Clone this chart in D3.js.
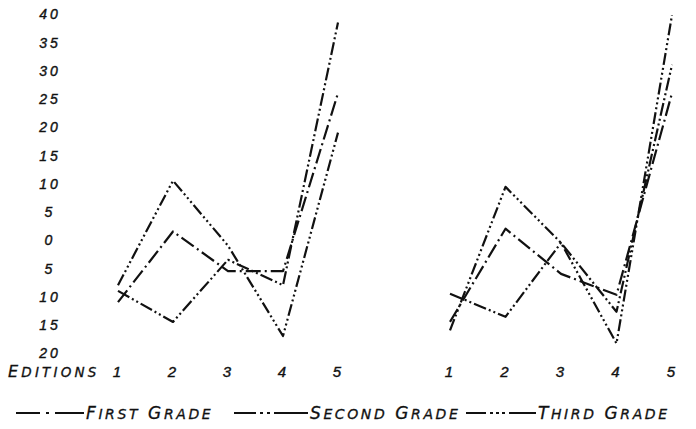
<!DOCTYPE html>
<html>
<head>
<meta charset="utf-8">
<script src="https://cdn.jsdelivr.net/npm/d3@7"></script>
<style>
  body { margin: 0; background: #fff; }
  svg { font-family: "DejaVu Sans", sans-serif; font-style: italic; }
  .lbl { font-size: 14px; letter-spacing: 3px; fill: #111; stroke: #111; stroke-width: 0.4px; }
</style>
</head>
<body>
<div id="chart"></div>
<script>
const editions = [1, 2, 3, 4, 5]
const yTicks = [40, 35, 30, 25, 20, 15, 10, 5, 0, -5, -10, -15, -20]

// left group
const firstGradeA = [-11, 1.5, -5.5, -5.5, 26]
const secondGradeA = [-9, -14.5, -3.5, -8, 38.5]
const thirdGradeA = [-8, 10.5, -1, -17, 19]

// right group
const firstGradeB = [-14.5, 2, -6, -9.7, 26]
const secondGradeB = [-9.5, -13.6, -0.5, -12.7, 31]
const thirdGradeB = [-16, 9.4, -0.5, -18.3, 39.8]

const grades = ['First Grade', 'Second Grade', 'Third Grade']
const dashes = ['15 4 2 4', '13 3 2 3 2 3', '12 3 2 3 2 3 2 3']

const width = 696
const height = 429

const svg = d3.select('#chart').append('svg')
  .attr('width', width)
  .attr('height', height)

const y = d3.scaleLinear().domain([-20, 40]).range([353, 14])
const xA = d3.scalePoint().domain(editions).range([118, 338])
const xB = d3.scalePoint().domain(editions).range([450, 672])

// y axis labels, negatives shown without sign
const yAxis = svg.append('g')
  .attr('transform', 'translate(50,0)')
  .call(d3.axisLeft(y).tickValues(yTicks).tickSize(0).tickFormat(d => Math.abs(d)))
yAxis.select('.domain').remove()
yAxis.selectAll('text')
  .attr('class', 'lbl')
  .attr('x', 0)
  .attr('dy', '0.35em')
  .attr('text-anchor', 'middle')
  .attr('font-family', null)
  .attr('font-size', null)

function editionAxis (x) {
  const g = svg.append('g')
    .attr('transform', 'translate(0,363)')
    .call(d3.axisBottom(x).tickSize(0))
  g.select('.domain').remove()
  g.selectAll('text')
    .attr('class', 'lbl')
    .attr('font-family', null)
    .attr('font-size', null)
    .style('font-size', '15px')
}
editionAxis(xA)
editionAxis(xB)

// small caps label helper
function smallCaps (sel, words, big, small) {
  words.split(' ').forEach((w, i) => {
    sel.append('tspan').attr('font-size', big).text((i ? ' ' : '') + w[0])
    sel.append('tspan').attr('font-size', small).text(w.slice(1).toUpperCase())
  })
}

const ed = svg.append('text')
  .attr('x', 8).attr('y', 377)
  .attr('fill', '#111')
  .attr('stroke', '#111')
  .attr('stroke-width', 0.3)
  .attr('letter-spacing', 3.2)
smallCaps(ed, 'EDITIONS', 16, 13.5)

function drawSeries (x, values, i) {
  const line = d3.line()
    .x((d, j) => x(editions[j]))
    .y(d => y(d))
  svg.append('path')
    .datum(values)
    .attr('fill', 'none')
    .attr('stroke', '#111')
    .attr('stroke-width', 2.2)
    .attr('stroke-dasharray', dashes[i])
    .attr('stroke-linejoin', 'round')
    .attr('d', line)
}

;[firstGradeA, secondGradeA, thirdGradeA].forEach((v, i) => drawSeries(xA, v, i))
;[firstGradeB, secondGradeB, thirdGradeB].forEach((v, i) => drawSeries(xB, v, i))

// legend
const legendX = [16, 234, 466]
const legendW = [68, 74, 70]
grades.forEach((g, i) => {
  svg.append('line')
    .attr('x1', legendX[i]).attr('x2', legendX[i] + legendW[i])
    .attr('y1', 413).attr('y2', 413)
    .attr('stroke', '#111')
    .attr('stroke-width', 2.2)
    .attr('stroke-dasharray', i === 0 ? '24 6 3 6 30' : i === 1 ? '22 4 3 4 3 4 36' : '20 4 3 3 3 3 3 4 30')
  const t = svg.append('text')
    .attr('x', legendX[i] + legendW[i] + 2).attr('y', 419)
    .attr('fill', '#111')
    .attr('stroke', '#111')
    .attr('stroke-width', 0.3)
    .attr('letter-spacing', 2.6)
  smallCaps(t, g, 17, 14)
})
</script>
</body>
</html>
